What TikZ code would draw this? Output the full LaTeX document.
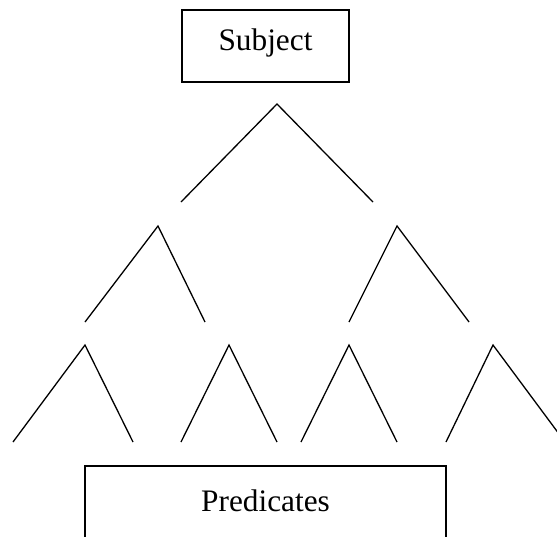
\documentclass[tikz,border=0pt]{standalone}
\usepackage{fontspec}
\setmainfont{Liberation Serif}
\begin{document}
\begin{tikzpicture}[x=1pt,y=-1pt,
  boxshape/.style={draw=black, line width=1.6pt, rectangle, inner sep=0pt},
  labeltext/.style={anchor=base, inner sep=0pt, font=\fontsize{31.3}{36}\selectfont},
  branch/.style={draw=black, line width=1.3pt}]
\useasboundingbox (0,0) rectangle (557,536);
\clip (0,0) rectangle (557,536);
% boxes
\node (subj) [boxshape, minimum width=167pt, minimum height=72pt] at (265.5,46) {};
\node (subjlabel) [labeltext] at (265.5,50) {Subject};
\node (pred) [boxshape, minimum width=361pt, minimum height=84pt] at (265.5,508) {};
\node (predlabel) [labeltext] at (265.5,511) {Predicates};
% top level
\coordinate (a0) at (277,104);
\coordinate (a0l) at (181,202);
\coordinate (a0r) at (373,202);
% second level
\coordinate (b1) at (158,226);
\coordinate (b1l) at (85,322);
\coordinate (b1r) at (205,322);
\coordinate (b2) at (397,226);
\coordinate (b2l) at (349,322);
\coordinate (b2r) at (469,322);
% third level
\coordinate (c1) at (85,345);
\coordinate (c1l) at (13,442);
\coordinate (c1r) at (133,442);
\coordinate (c2) at (229,345);
\coordinate (c2l) at (181,442);
\coordinate (c2r) at (277,442);
\coordinate (c3) at (349,345);
\coordinate (c3l) at (301,442);
\coordinate (c3r) at (397,442);
\coordinate (c4) at (493,345);
\coordinate (c4l) at (446,442);
\coordinate (c4r) at (565,442);
\draw[branch] (a0l) -- (a0) -- (a0r);
\draw[branch] (b1l) -- (b1) -- (b1r);
\draw[branch] (b2l) -- (b2) -- (b2r);
\draw[branch] (c1l) -- (c1) -- (c1r);
\draw[branch] (c2l) -- (c2) -- (c2r);
\draw[branch] (c3l) -- (c3) -- (c3r);
\draw[branch] (c4l) -- (c4) -- (c4r);
\end{tikzpicture}
\end{document}
